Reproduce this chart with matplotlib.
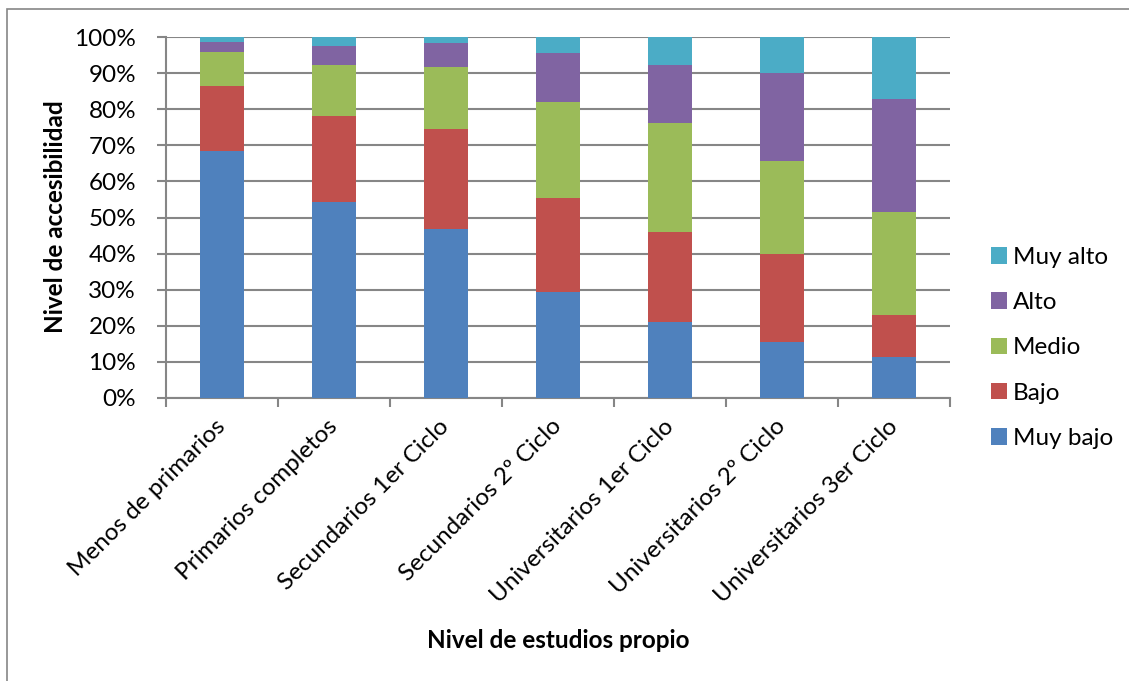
import numpy as np
import matplotlib.pyplot as plt
from matplotlib.patches import Rectangle
from matplotlib.ticker import FixedLocator, PercentFormatter

plt.rcParams['font.family'] = ['Lato', 'DejaVu Sans']

categories = [
    'Menos de primarios',
    'Primarios completos',
    'Secundarios 1er Ciclo',
    'Secundarios 2º Ciclo',
    'Universitarios 1er Ciclo',
    'Universitarios 2º Ciclo',
    'Universitarios 3er Ciclo',
]
levels = ['Muy bajo', 'Bajo', 'Medio', 'Alto', 'Muy alto']

# share (%) of each level per category
muy_bajo = [68.5, 54.3, 46.7, 29.4, 21.0, 15.5, 11.3]
bajo = [18.0, 23.9, 27.9, 26.1, 25.1, 24.3, 11.8]
medio = [9.3, 14.0, 17.1, 26.6, 30.0, 25.9, 28.3]
alto = [2.9, 5.4, 6.6, 13.6, 16.1, 24.3, 31.3]
muy_alto = [1.3, 2.4, 1.7, 4.3, 7.8, 10.0, 17.3]

series = [muy_bajo, bajo, medio, alto, muy_alto]
colors = ['#4F81BD', '#C0504D', '#9BBB59', '#8064A2', '#4BACC6']
FS = 17.5

fig = plt.figure(figsize=(11.29, 6.81), dpi=100)
ax = fig.add_axes([166 / 1129, 1 - 398 / 681, 784 / 1129, 361 / 681])

# outer chart frame
fig.patches.append(Rectangle((7 / 1129, -0.01), 1.0, 1 - 9 / 681 + 0.01,
                             transform=fig.transFigure, fill=False,
                             edgecolor='#868686', linewidth=1.2))

x = np.arange(len(categories))
bottom = np.zeros(len(categories))
handles = []
for vals, color, name in zip(series, colors, levels):
    bars = ax.bar(x, vals, bottom=bottom, width=0.4, color=color,
                  edgecolor='none', label=name, zorder=3)
    handles.append(bars)
    bottom += np.array(vals)

ax.set_xlim(-0.5, len(categories) - 0.5)
ax.set_ylim(0, 100)
ax.yaxis.set_major_locator(FixedLocator(np.arange(0, 101, 10)))
ax.yaxis.set_major_formatter(PercentFormatter(decimals=0))
ax.grid(axis='y', color='#868686', linewidth=1.5, zorder=0)

ax.xaxis.set_major_locator(FixedLocator(np.arange(-0.5, len(categories), 1)))
ax.xaxis.set_minor_locator(FixedLocator(x))
ax.set_xticklabels([])
ax.set_xticklabels(categories, minor=True, rotation=45, ha='right',
                   va='center', rotation_mode='anchor', fontsize=FS)
ax.tick_params(axis='x', which='minor', length=0, pad=18)
ax.tick_params(axis='x', which='major', length=6.5, width=1.5, color='#868686')
ax.tick_params(axis='y', length=6.5, width=1.5, color='#868686',
               labelsize=FS, pad=15)

for side in ['top', 'right']:
    ax.spines[side].set_visible(False)
for side in ['left', 'bottom']:
    ax.spines[side].set_color('#868686')
    ax.spines[side].set_linewidth(1.5)

fig.text(56 / 1129, 1 - 217 / 681, 'Nivel de accesibilidad', rotation=90,
         fontsize=FS, fontweight='bold', ha='center', va='center')
fig.text(558 / 1129, 1 - 640 / 681, 'Nivel de estudios propio',
         fontsize=FS, fontweight='bold', ha='center', va='center')

ax.legend(handles[::-1], levels[::-1], loc='center left',
          bbox_to_anchor=(991 / 1129, 1 - 348 / 681),
          bbox_transform=fig.transFigure, frameon=False, fontsize=FS,
          handlelength=0.66, handleheight=0.66, handletextpad=0.25,
          labelspacing=1.0, borderaxespad=0, borderpad=0)

fig.savefig('out.png', dpi=100)
